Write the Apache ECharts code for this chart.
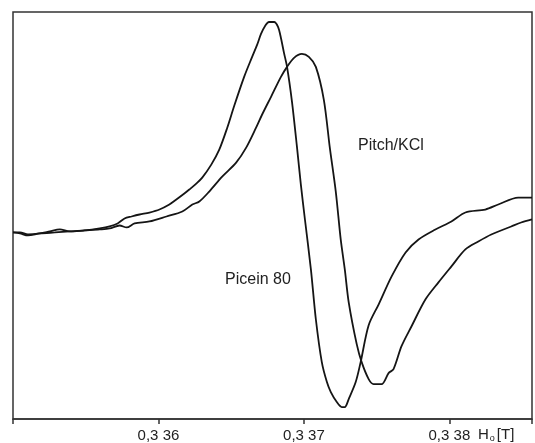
<!DOCTYPE html>
<html>
<head>
<meta charset="utf-8">
<script src="https://cdn.jsdelivr.net/npm/echarts@6/dist/echarts.min.js"></script>
<style>
  html, body { margin: 0; padding: 0; background: #fff; }
  #chart { width: 535px; height: 443px; }
</style>
</head>
<body>
<div id="chart"></div>
<script>
// field H0 in tesla, signal in arbitrary units
const piceinField = [0.335000, 0.335048, 0.335103, 0.335185, 0.335288, 0.335390, 0.335493, 0.335596,
  0.335664, 0.335719, 0.335767, 0.335815, 0.335870, 0.335938, 0.336007, 0.336075, 0.336123, 0.336178,
  0.336212, 0.336260, 0.336301, 0.336363, 0.336418, 0.336473, 0.336521, 0.336589, 0.336644, 0.336678,
  0.336705, 0.336733, 0.336760, 0.336795, 0.336822, 0.336842, 0.336863, 0.336884, 0.336918, 0.336952,
  0.336979, 0.337007, 0.337048, 0.337082, 0.337123, 0.337158, 0.337185, 0.337226, 0.337260, 0.337281,
  0.337308, 0.337356, 0.337390, 0.337445, 0.337514, 0.337603, 0.337699, 0.337788, 0.337904, 0.338014,
  0.338110, 0.338247, 0.338336, 0.338473, 0.338568];
const piceinSignal = [0, -1, -3, -1, 0, 1, 2, 4,
  6, 9, 14, 16, 18, 20, 23, 28, 33, 39,
  43, 49, 55, 68, 83, 105, 127, 156, 176, 188,
  199, 207, 211, 211, 206, 195, 180, 166, 131, 86,
  48, 13, -37, -87, -130, -150, -160, -170, -175, -175,
  -167, -150, -130, -93, -72, -44, -20, -7, 3, 11,
  20, 23, 28, 35, 35];

const pitchField = [0.335000, 0.335048, 0.335103, 0.335185, 0.335253, 0.335322, 0.335390, 0.335493,
  0.335596, 0.335664, 0.335733, 0.335781, 0.335836, 0.335938, 0.336055, 0.336164, 0.336233, 0.336281,
  0.336349, 0.336438, 0.336534, 0.336603, 0.336671, 0.336712, 0.336774, 0.336842, 0.336884, 0.336932,
  0.336986, 0.337034, 0.337082, 0.337137, 0.337178, 0.337219, 0.337253, 0.337281, 0.337308, 0.337363,
  0.337397, 0.337445, 0.337479, 0.337534, 0.337582, 0.337616, 0.337671, 0.337740, 0.337836, 0.337925,
  0.338014, 0.338110, 0.338199, 0.338288, 0.338425, 0.338493, 0.338568];
const pitchSignal = [0, 0, -2, -1, 1, 3, 1, 2,
  3, 4, 7, 5, 9, 11, 16, 21, 28, 31,
  41, 56, 70, 85, 105, 118, 136, 156, 166, 175,
  179, 176, 166, 133, 85, 41, -7, -37, -70, -112,
  -130, -147, -152, -152, -141, -137, -114, -94, -67, -50,
  -34, -17, -9, -2, 6, 10, 13];

const tickLabels = { 336: '0,3 36', 337: '0,3 37', 338: '0,3 38' };

const font = 'Liberation Sans, Arial, sans-serif';
const ink = '#151515';

const chart = echarts.init(document.getElementById('chart'));

chart.setOption({
  backgroundColor: '#fff',
  animation: false,
  grid: { left: 13, right: 1, top: 12, bottom: 23, show: true, borderColor: '#333', borderWidth: 1.5 },
  xAxis: {
    type: 'value', min: 0.335, max: 0.338568, interval: 0.001,
    axisLine: { show: true, onZero: false, lineStyle: { color: '#333', width: 1.5 } },
    axisTick: { show: true, length: 5, inside: false, lineStyle: { color: '#333', width: 1.5 } },
    splitLine: { show: false },
    axisLabel: {
      margin: 9, fontSize: 15, color: '#222', fontFamily: font,
      formatter: v => tickLabels[Math.round(v * 1000)] || ''
    }
  },
  yAxis: {
    type: 'value', min: -187, max: 221,
    axisLine: { show: false }, axisTick: { show: false },
    axisLabel: { show: false }, splitLine: { show: false }
  },
  series: [
    {
      name: 'Picein 80', type: 'line', showSymbol: false, smooth: 0.3,
      lineStyle: { color: ink, width: 1.8 },
      data: piceinField.map((x, i) => [x, piceinSignal[i]])
    },
    {
      name: 'Pitch/KCl', type: 'line', showSymbol: false, smooth: 0.3,
      lineStyle: { color: ink, width: 1.8 },
      data: pitchField.map((x, i) => [x, pitchSignal[i]])
    }
  ],
  graphic: [
    { type: 'text', left: 225, top: 272, style: { text: 'Picein 80', fontSize: 16, fill: '#222', fontFamily: font } },
    { type: 'text', left: 358, top: 138, style: { text: 'Pitch/KCl', fontSize: 16, fill: '#222', fontFamily: font } },
    {
      type: 'text', left: 478, top: 427,
      style: {
        text: '{a|H}{s|o}{a|[T]}', fill: '#222', fontFamily: font,
        rich: {
          a: { fontSize: 15, fontFamily: font, fill: '#222' },
          s: { fontSize: 9, fontFamily: font, fill: '#222', padding: [8, 2, 0, 1] }
        }
      }
    }
  ]
});

window.addEventListener('resize', () => chart.resize());
</script>
</body>
</html>
